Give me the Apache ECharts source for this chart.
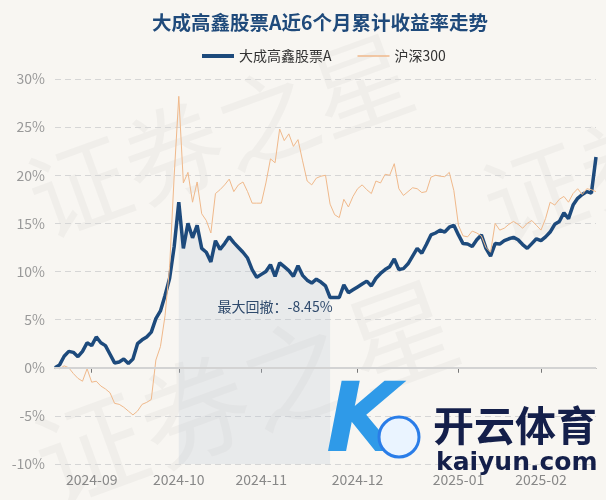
<!DOCTYPE html>
<html>
<head>
<meta charset="utf-8">
<script src="https://cdn.jsdelivr.net/npm/echarts@6/dist/echarts.min.js"></script>
<style>
  html, body { margin: 0; padding: 0; background: #f8f6f2; }
  #main { width: 606px; height: 500px; }
</style>
</head>
<body>
<div id="main"></div>
<script>
// 交易日（2024-08-21 ~ 2025-02-21）
const dates = [
  '2024-08-21', '2024-08-22', '2024-08-23', '2024-08-26', '2024-08-27', '2024-08-28', '2024-08-29', '2024-08-30',
  '2024-09-02', '2024-09-03', '2024-09-04', '2024-09-05', '2024-09-06', '2024-09-09', '2024-09-10', '2024-09-11',
  '2024-09-12', '2024-09-13', '2024-09-18', '2024-09-19', '2024-09-20', '2024-09-23', '2024-09-24', '2024-09-25',
  '2024-09-26', '2024-09-27', '2024-09-30',
  '2024-10-08', '2024-10-09', '2024-10-10', '2024-10-11', '2024-10-14', '2024-10-15', '2024-10-16', '2024-10-17',
  '2024-10-18', '2024-10-21', '2024-10-22', '2024-10-23', '2024-10-24', '2024-10-25', '2024-10-28', '2024-10-29',
  '2024-10-30', '2024-10-31',
  '2024-11-01', '2024-11-04', '2024-11-05', '2024-11-06', '2024-11-07', '2024-11-08', '2024-11-11', '2024-11-12',
  '2024-11-13', '2024-11-14', '2024-11-15', '2024-11-18', '2024-11-19', '2024-11-20', '2024-11-21', '2024-11-22',
  '2024-11-25', '2024-11-26', '2024-11-27', '2024-11-28', '2024-11-29',
  '2024-12-02', '2024-12-03', '2024-12-04', '2024-12-05', '2024-12-06', '2024-12-09', '2024-12-10', '2024-12-11',
  '2024-12-12', '2024-12-13', '2024-12-16', '2024-12-17', '2024-12-18', '2024-12-19', '2024-12-20', '2024-12-23',
  '2024-12-24', '2024-12-25', '2024-12-26', '2024-12-27', '2024-12-30', '2024-12-31',
  '2025-01-02', '2025-01-03', '2025-01-06', '2025-01-07', '2025-01-08', '2025-01-09', '2025-01-10', '2025-01-13',
  '2025-01-14', '2025-01-15', '2025-01-16', '2025-01-17', '2025-01-20', '2025-01-21', '2025-01-22', '2025-01-23',
  '2025-01-24', '2025-01-27',
  '2025-02-05', '2025-02-06', '2025-02-07', '2025-02-10', '2025-02-11', '2025-02-12', '2025-02-13', '2025-02-14',
  '2025-02-17', '2025-02-18', '2025-02-19', '2025-02-20', '2025-02-21'
]

// 大成高鑫股票A 累计收益率(%)
const fundValues = [
  0, 0.3, 1.2, 1.7, 1.6, 1.15, 1.7, 2.6,
  2.3, 3.2, 2.6, 2.3, 1.4, 0.5, 0.6, 0.9, 0.45, 0.9, 2.5, 2.9, 3.2, 3.7, 5.1, 5.9, 7.5, 9.3, 12.6,
  17.2, 12.4, 15.0, 13.5, 14.8, 12.4, 12.0, 11.0, 13.2, 12.3, 12.9, 13.6, 13.0, 12.5, 12.0, 11.4, 10.2, 9.4,
  9.7, 10.0, 10.7, 9.5, 10.9, 10.5, 10.1, 9.5, 10.6, 9.6, 9.1, 8.8, 9.2, 8.9, 8.5, 7.3, 7.3, 7.3, 8.6, 7.8, 8.1,
  8.4, 8.7, 9.0, 8.5, 9.3, 9.8, 10.2, 10.5, 11.3, 10.2, 10.3, 10.8, 11.6, 12.4, 11.9, 12.8, 13.8, 14.0, 14.3, 14.1, 14.6, 14.8,
  13.8, 12.9, 12.85, 12.6, 13.3, 13.8, 12.4, 11.6, 12.9, 12.85, 13.2, 13.4, 13.55, 13.3, 12.8, 12.4, 12.9, 13.4,
  13.2, 13.6, 14.1, 14.9, 15.2, 16.1, 15.5, 16.9, 17.6, 18.0, 18.3, 18.15, 21.9
]

// 沪深300 累计收益率(%)
const hs300Values = [
  0, -0.1, 0.2, 0.0, -0.6, -1.1, -1.4, -0.1,
  -1.5, -1.4, -1.9, -2.2, -2.6, -3.7, -3.8, -4.1, -4.5, -4.9, -4.5, -3.8, -3.6, -3.3, 0.8, 2.2, 5.4, 10.5, 20.0,
  28.2, 19.2, 20.3, 17.2, 19.3, 16.0, 15.3, 14.0, 18.1, 18.5, 19.0, 19.6, 18.3, 19.0, 19.3, 18.3, 17.1, 17.1,
  17.1, 19.2, 21.7, 21.3, 24.8, 23.6, 24.3, 23.0, 23.7, 21.5, 19.4, 19.0, 19.7, 19.9, 20.0, 17.0, 15.9, 15.6, 17.5, 16.7, 17.8,
  18.6, 19.0, 18.5, 18.1, 19.4, 19.2, 20.1, 20.0, 21.2, 18.6, 17.9, 18.3, 18.7, 18.6, 18.2, 18.3, 19.8, 20.0, 19.9, 19.85, 20.3, 18.4,
  14.8, 13.7, 13.6, 14.2, 14.0, 13.7, 12.5, 12.0, 15.0, 14.3, 14.5, 14.9, 15.2, 14.9, 14.5, 15.0, 15.3, 14.8,
  14.3, 15.5, 17.2, 16.9, 17.5, 17.8, 17.2, 18.1, 18.6, 18.0, 18.6, 18.5, 18.3
]

// 最大回撤区间（峰值 -> 谷底）
const drawdownStart = 27
const drawdownEnd = 60
const maxDrawdown = -8.45

const fontFamily = '"Noto Sans CJK SC", "Noto Sans", sans-serif'

let chart = echarts.init(document.getElementById('main'))

// 每月第一个交易日显示刻度
const isMonthStart = (index) => index > 0 && dates[index].slice(0, 7) !== dates[index - 1].slice(0, 7)

const drawdownData = fundValues.map((v, i) => (i >= drawdownStart && i <= drawdownEnd ? v : '-'))

let option = {
  backgroundColor: '#f8f6f2',
  textStyle: { fontFamily: fontFamily },
  title: {
    text: '大成高鑫股票A近6个月累计收益率走势',
    left: 147,
    top: 8,
    textStyle: { color: '#1f4a7b', fontSize: 19.5, fontWeight: 'bold', fontFamily: fontFamily }
  },
  legend: {
    left: 197,
    top: 44,
    itemWidth: 32,
    itemHeight: 14,
    itemGap: 26,
    symbolKeepAspect: true,
    textStyle: { color: '#333', fontSize: 14, fontFamily: fontFamily },
    data: [
      { name: '大成高鑫股票A', icon: 'path://M0,0 L32,0 L32,4 L0,4 Z' },
      { name: '沪深300', icon: 'path://M0,0 L32,0 L32,1.3 L0,1.3 Z' }
    ]
  },
  grid: { left: 55, right: 10, top: 79, bottom: 36 },
  xAxis: {
    type: 'category',
    boundaryGap: false,
    data: dates,
    axisLine: { lineStyle: { color: '#777', width: 1 } },
    axisTick: { interval: isMonthStart, length: 5, lineStyle: { color: '#777' } },
    axisLabel: {
      interval: isMonthStart,
      color: '#888',
      fontSize: 14,
      margin: 9,
      formatter: (v) => v.slice(0, 7)
    },
    splitLine: { show: false }
  },
  yAxis: {
    type: 'value',
    min: -10,
    max: 30,
    interval: 5,
    axisLine: { show: false },
    axisTick: { show: false },
    axisLabel: { formatter: '{value}%', color: '#999', fontSize: 14, margin: 10 },
    splitLine: { lineStyle: { color: '#d6d6d6', type: [6, 4] } }
  },
  graphic: [
    // 水印
    {
      type: 'text', left: 15, top: 20, rotation: Math.PI / 9, z: 0, silent: true,
      style: { text: '证券之星', fontSize: 100, fill: 'rgba(0,0,0,0.03)', fontFamily: fontFamily }
    },
    {
      type: 'text', left: 20, top: 265, rotation: Math.PI / 9, z: 0, silent: true,
      style: { text: '证券之星', fontSize: 110, fill: 'rgba(0,0,0,0.03)', fontFamily: fontFamily }
    },
    {
      type: 'text', left: 470, top: 95, rotation: Math.PI / 9, z: 0, silent: true,
      style: { text: '证券', fontSize: 100, fill: 'rgba(0,0,0,0.03)', fontFamily: fontFamily }
    },
    // 角标
    {
      type: 'text', left: 326, top: 378, z: 100, silent: true,
      style: {
        text: 'K', fontSize: 96, fontStyle: 'italic', fontWeight: 'bold', fontFamily: 'DejaVu Sans',
        fill: '#2f9ae8'
      }
    },
    {
      type: 'circle', z: 101, silent: true,
      shape: { cx: 399, cy: 437, r: 20 },
      style: { fill: '#eaf4ff', stroke: '#2a7de8', lineWidth: 3 }
    },
    {
      type: 'text', left: 433, top: 405, z: 100, silent: true,
      style: { text: '开云体育', fontSize: 41, fontWeight: 'bold', fill: '#141f4a', fontFamily: fontFamily }
    },
    {
      type: 'text', left: 436, top: 451, z: 100, silent: true,
      style: { text: 'kaiyun.com', fontSize: 25, fontWeight: 'bold', fill: '#141f4a', fontFamily: 'DejaVu Sans' }
    }
  ],
  series: [
    {
      name: '大成高鑫股票A',
      type: 'line',
      data: fundValues,
      symbol: 'none',
      showSymbol: false,
      lineStyle: { color: '#1d4a7c', width: 3.5 },
      itemStyle: { color: '#1d4a7c' },
      z: 3
    },
    {
      name: '沪深300',
      type: 'line',
      data: hs300Values,
      symbol: 'none',
      showSymbol: false,
      lineStyle: { color: '#f0b98b', width: 1 },
      itemStyle: { color: '#f0b98b' },
      z: 4,
      markLine: {
        silent: true,
        symbol: 'none',
        label: { show: false },
        lineStyle: { color: '#d3d3d3', width: 2, type: 'solid' },
        data: [{ yAxis: 0 }]
      }
    },
    {
      name: '最大回撤',
      type: 'line',
      data: drawdownData,
      symbol: 'none',
      silent: true,
      lineStyle: { opacity: 0 },
      areaStyle: { color: 'rgba(185,198,212,0.35)', origin: 'start' },
      z: 1,
      markPoint: {
        symbol: 'circle',
        symbolSize: 0,
        data: [{ coord: [dates[48], 6.3], value: maxDrawdown }],
        label: {
          show: true,
          position: 'inside',
          formatter: '最大回撤：' + maxDrawdown + '%',
          color: '#2f4a6c',
          fontSize: 14,
          fontFamily: fontFamily
        }
      }
    }
  ]
}

chart.setOption(option)
</script>
</body>
</html>
